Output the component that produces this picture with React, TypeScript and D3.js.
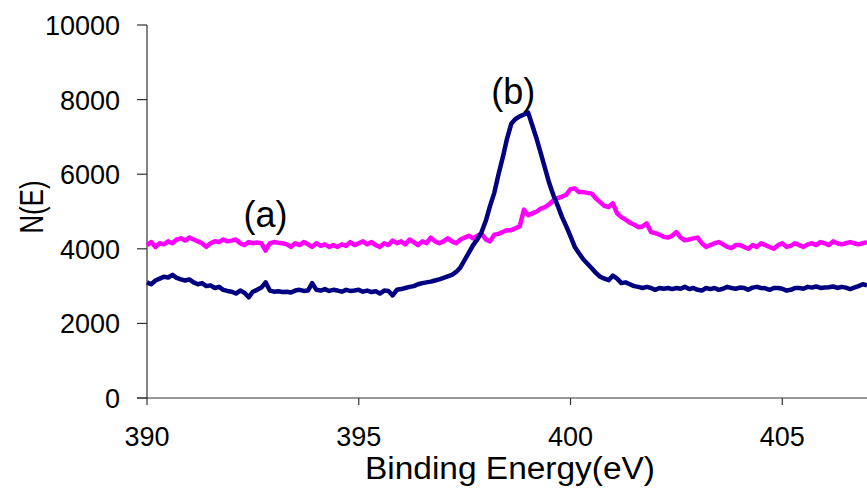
import React from "react";
import * as d3 from "d3";

const energyStart = 390;
const energyStep = 0.1;

// (a) magenta curve, N(E) from 390.0 to 407.0 eV every 0.1 eV
const seriesA: number[] = [
  4100, 4180, 4050, 4150, 4120, 4200, 4150, 4250, 4280, 4220,
  4300, 4250, 4200, 4150, 4050, 4150, 4200, 4180, 4250, 4200,
  4220, 4250, 4150, 4100, 4180, 4150, 4170, 4150, 3950, 4150,
  4180, 4160, 4150, 4120, 4050, 4150, 4100, 4180, 4120, 4050,
  4150, 4080, 4120, 4050, 4100, 4050, 4120, 4080, 4180, 4100,
  4150, 4200, 4120, 4180, 4100, 4050, 4150, 4100, 4220, 4150,
  4200, 4120, 4250, 4180, 4100, 4200, 4150, 4300, 4200, 4150,
  4200, 4280, 4200, 4150, 4250, 4300, 4350, 4280, 4350, 4400,
  4250, 4200, 4380, 4400, 4450, 4500, 4500, 4550, 4600, 5050,
  4900, 4950, 5000, 5080, 5120, 5200, 5300, 5360, 5400, 5450,
  5600, 5620, 5520, 5520, 5500, 5480, 5350, 5250, 5150, 5120,
  5220, 4950, 4850, 4780, 4700, 4650, 4580, 4600, 4680, 4450,
  4420, 4380, 4320, 4300, 4350, 4450, 4300, 4230, 4250, 4280,
  4300, 4150, 4050, 4100, 4150, 4180, 4120, 4050, 4020, 4100,
  4100, 4050, 4000, 4100, 4050, 4150, 4100, 4050, 4000, 4100,
  4150, 4050, 4080, 4150, 4100, 4050, 4120, 4150, 4100, 4180,
  4150, 4100, 4200, 4150, 4120, 4150, 4180, 4150, 4120, 4150,
  4180,
];

// (b) navy curve
const seriesB: number[] = [
  3100, 3050, 3150, 3200, 3250, 3230, 3300, 3220, 3180, 3150,
  3180, 3100, 3050, 3080, 3000, 3020, 2950, 2980, 2900, 2870,
  2850, 2800, 2880, 2820, 2700, 2850, 2900, 2960, 3100, 2880,
  2850, 2860, 2840, 2850, 2830, 2880, 2900, 2870, 2880, 3080,
  2900, 2880, 2920, 2870, 2900, 2880, 2850, 2900, 2870, 2880,
  2900, 2850, 2880, 2840, 2860, 2800, 2880, 2870, 2750, 2900,
  2920, 2950, 2980, 3000, 3050, 3080, 3100, 3120, 3150, 3180,
  3220, 3260, 3300, 3380, 3500, 3700, 3900, 4100, 4250, 4450,
  4750, 5150, 5500, 6000, 6450, 6950, 7350, 7480, 7550, 7600,
  7650, 7300, 6950, 6550, 6150, 5750, 5420, 5150, 4850, 4600,
  4330, 4050, 3880, 3720, 3600, 3480, 3350, 3250, 3200, 3160,
  3280, 3200, 3080, 3100, 3050, 3000, 2980, 2950, 2980, 2950,
  2900, 2950, 2930, 2950, 2920, 2950, 2930, 2980, 2920, 2950,
  2900, 2880, 2950, 2920, 2950, 2900, 2930, 2980, 2950, 2930,
  2960, 2950, 2900, 2960, 2980, 2950, 2940, 2900, 2950, 2950,
  2930, 2880, 2900, 2950, 2950, 2930, 2980, 2960, 2990, 2950,
  2960, 2970, 2990, 2950, 2980, 2960, 2920, 2960, 3000, 3050,
  3020,
];

const yTicks = [0, 2000, 4000, 6000, 8000, 10000];
const xTicks = [390, 395, 400, 405];
const seriesLabels = [
  { text: "(a)", x: 392.8, y: 4580 },
  { text: "(b)", x: 398.65, y: 7880 },
];

const W = 867;
const H = 492;
const FONT = "'Liberation Sans', Arial, Helvetica, sans-serif";

export default function App() {
  const x = d3.scaleLinear().domain([390, 407]).range([147, 867]);
  const y = d3.scaleLinear().domain([0, 10000]).range([398, 25]);

  const toPts = (vals: number[]) =>
    vals.map((v, i) => [energyStart + i * energyStep, v] as [number, number]);

  const line = d3
    .line<[number, number]>()
    .x((d) => x(d[0]))
    .y((d) => y(d[1]));

  const [x0, x1] = x.range();
  const [yb, yt] = y.range();

  return (
    <svg
      width={W}
      height={H}
      style={{ position: "absolute", left: 0, top: 0, background: "#fff" }}
      fontFamily={FONT}
    >
      <rect x={0} y={0} width={W} height={H} fill="#fff" />
      {/* axes */}
      <line x1={x0} x2={x0} y1={yt} y2={yb} stroke="#333" strokeWidth={1.2} />
      <line x1={x0 - 10} x2={x1} y1={yb} y2={yb} stroke="#333" strokeWidth={1.2} />
      {yTicks.map((t) => (
        <g key={"y" + t}>
          <line x1={x0 - 10} x2={x0} y1={y(t)} y2={y(t)} stroke="#333" strokeWidth={1.2} />
          <text x={120} y={y(t) + 10} textAnchor="end" fontSize={27} fill="#000">
            {String(t)}
          </text>
        </g>
      ))}
      {xTicks.map((t) => (
        <g key={"x" + t}>
          <line x1={x(t)} x2={x(t)} y1={yb} y2={yb + 7} stroke="#333" strokeWidth={1.2} />
          <text x={x(t)} y={446} textAnchor="middle" fontSize={27} fill="#000">
            {String(t)}
          </text>
        </g>
      ))}
      <text
        x={510}
        y={479}
        textAnchor="middle"
        fontSize={31}
        textLength={290}
        lengthAdjust="spacingAndGlyphs"
        fill="#000"
      >
        Binding Energy(eV)
      </text>
      <text
        transform="translate(43,207) rotate(-90)"
        textAnchor="middle"
        fontSize={34}
        textLength={53}
        lengthAdjust="spacingAndGlyphs"
        fill="#000"
      >
        N(E)
      </text>

      {/* series */}
      <path d={line(toPts(seriesA)) || ""} fill="none" stroke="#FF00FF" strokeWidth={4.5} strokeLinejoin="round" />
      <path d={line(toPts(seriesB)) || ""} fill="none" stroke="#000080" strokeWidth={4.5} strokeLinejoin="round" />

      {seriesLabels.map((l) => (
        <text key={l.text} x={x(l.x)} y={y(l.y)} textAnchor="middle" fontSize={36} fill="#000">
          {l.text}
        </text>
      ))}
    </svg>
  );
}
